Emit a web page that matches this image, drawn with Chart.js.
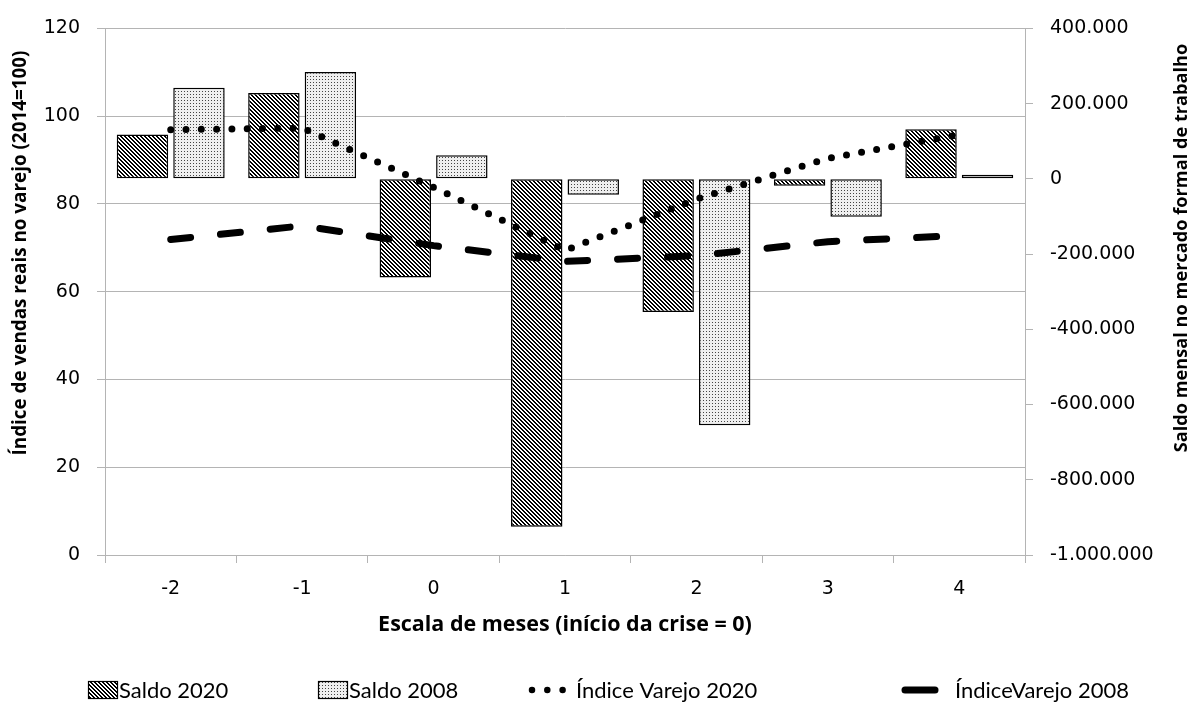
<!DOCTYPE html>
<html><head><meta charset="utf-8">
<style>html,body{margin:0;padding:0;background:#fff;overflow:hidden}#wrap{width:1195px;height:715px;position:relative}</style>
<script src="https://cdn.jsdelivr.net/npm/chart.js@4.4.1/dist/chart.umd.min.js"></script>
</head><body><div id="wrap"><canvas id="c" width="1195" height="715"></canvas></div>
<script>
// ---- data ----
const categories = ['-2', '-1', '0', '1', '2', '3', '4'];
const saldo2020 = [118000, 228000, -262000, -925000, -354000, -18000, 132000];
const saldo2008 = [242000, 284000, 63000, -42000, -655000, -101000, 11000];
const indiceVarejo2020 = [96.9, 97.3, 83.8, 69.4, 81.1, 90.4, 95.8];
const indiceVarejo2008 = [71.9, 75.0, 70.5, 66.9, 68.2, 71.4, 72.8];
const leftAxisRange = [0, 120, 20];
const rightAxisRange = [-1000000, 400000, 200000];
const seriesNames = ['Saldo 2020', 'Saldo 2008', 'Índice Varejo 2020', 'ÍndiceVarejo 2008'];
const xTitle = 'Escala de meses (início da crise = 0)';
const leftTitle = 'Índice de vendas reais no varejo (2014=100)';
const rightTitle = 'Saldo mensal no mercado formal de trabalho';

// ---- patterns ----
function makeHatch() {
  const c = document.createElement('canvas'); c.width = 4; c.height = 4;
  const g = c.getContext('2d');
  g.fillStyle = '#fff'; g.fillRect(0, 0, 4, 4);
  g.fillStyle = '#000';
  for (let y = 0; y < 4; y++) for (let x = 0; x < 4; x++) {
    const d = ((x - y) % 4 + 4) % 4;
    if (d < 2) g.fillRect(x, y, 1, 1);
  }
  return g.createPattern(c, 'repeat');
}
function makeStipple() {
  const c = document.createElement('canvas'); c.width = 3; c.height = 3;
  const g = c.getContext('2d');
  g.fillStyle = '#efefef'; g.fillRect(0, 0, 3, 3);
  g.fillStyle = '#444'; g.fillRect(1, 1, 1, 1);
  return g.createPattern(c, 'repeat');
}
const hatch = makeHatch();
const stipple = makeStipple();

function fmtThousands(v) {
  const neg = v < 0;
  const s = Math.abs(Math.round(v)).toString().replace(/\B(?=(\d{3})+(?!\d))/g, '.');
  return (neg ? '-' : '') + s;
}

const tickFont = { family: 'DejaVu Sans', size: 19 };
const gridColor = '#b4b4b4';

function fitFont(ctx, text, weight, family, targetW) {
  ctx.font = weight + ' 20px "' + family + '"';
  const w = ctx.measureText(text).width;
  const size = 20 * targetW / w;
  return weight + ' ' + size.toFixed(2) + 'px "' + family + '"';
}

const overlay = {
  id: 'overlay',
  afterDraw(chart) {
    const ctx = chart.ctx;
    const area = chart.chartArea;
    ctx.save();
    ctx.fillStyle = '#000';
    ctx.textAlign = 'center';
    ctx.textBaseline = 'middle';
    ctx.font = fitFont(ctx, xTitle, 'bold', 'Open Sans', 374);
    ctx.fillText(xTitle, (area.left + area.right) / 2, 625);
    ctx.font = fitFont(ctx, leftTitle, 'bold', 'Open Sans', 405);
    ctx.save(); ctx.translate(21, 253); ctx.rotate(-Math.PI / 2); ctx.fillText(leftTitle, 0, 0); ctx.restore();
    ctx.font = fitFont(ctx, rightTitle, 'bold', 'Open Sans', 409);
    ctx.save(); ctx.translate(1182, 248); ctx.rotate(-Math.PI / 2); ctx.fillText(rightTitle, 0, 0); ctx.restore();

    // legend
    const ds = chart.data.datasets;
    const ly = 690;
    ctx.font = '22px Lato';
    ctx.textAlign = 'left';
    const starts = [88, 318, 528, 900];
    const order = [2, 3, 0, 1];
    order.forEach((di, k) => {
      const d = ds[di];
      const x0 = starts[k];
      let tx;
      if (d.type === 'bar') {
        ctx.fillStyle = d.backgroundColor;
        ctx.fillRect(x0, ly - 9, 30, 18);
        ctx.strokeStyle = '#000'; ctx.lineWidth = 1.2;
        ctx.strokeRect(x0 + 0.5, ly - 8.5, 29, 17);
        tx = x0 + 31;
      } else {
        ctx.save();
        ctx.strokeStyle = d.borderColor; ctx.lineWidth = d.borderWidth;
        ctx.lineCap = 'round';
        ctx.setLineDash(d.borderDash);
        ctx.beginPath();
        if (di === 0) { ctx.lineWidth = 6.5; ctx.moveTo(x0 + 4, ly); ctx.lineTo(x0 + 36, ly); }
        else { ctx.setLineDash([]); ctx.moveTo(x0 + 5, ly); ctx.lineTo(x0 + 35, ly); }
        ctx.stroke();
        ctx.restore();
        tx = x0 + (di === 0 ? 48 : 55);
      }
      ctx.fillStyle = '#000';
      ctx.fillText(d.label, tx, ly + 1);
    });
    ctx.restore();
  }
};

new Chart(document.getElementById('c'), {
  type: 'bar',
  data: {
    labels: categories,
    datasets: [
      { type: 'line', label: seriesNames[2], data: indiceVarejo2020, yAxisID: 'y', order: 0,
        borderColor: '#000', borderWidth: 7, borderDash: [0, 15.3], borderCapStyle: 'round', borderJoinStyle: 'round',
        pointRadius: 0, fill: false, tension: 0 },
      { type: 'line', label: seriesNames[3], data: indiceVarejo2008, yAxisID: 'y', order: 0,
        borderColor: '#000', borderWidth: 7, borderDash: [20, 30], borderCapStyle: 'round', borderJoinStyle: 'round',
        pointRadius: 0, fill: false, tension: 0 },
      { type: 'bar', label: seriesNames[0], data: saldo2020, yAxisID: 'y1', order: 1,
        backgroundColor: hatch, borderColor: '#000', borderWidth: 1.5, borderSkipped: false,
        categoryPercentage: 0.86, barPercentage: 0.91 },
      { type: 'bar', label: seriesNames[1], data: saldo2008, yAxisID: 'y1', order: 1,
        backgroundColor: stipple, borderColor: '#000', borderWidth: 1.5, borderSkipped: false,
        categoryPercentage: 0.86, barPercentage: 0.91 }
    ]
  },
  options: {
    responsive: false,
    animation: false,
    layout: { padding: { top: 24, left: 0, right: 0, bottom: 0 } },
    plugins: { legend: { display: false }, tooltip: { enabled: false }, title: { display: false } },
    scales: {
      x: {
        type: 'category', offset: true,
        grid: { offset: true, drawOnChartArea: false, drawTicks: true, tickLength: 8, color: gridColor },
        border: { color: gridColor },
        ticks: { font: tickFont, color: '#000', padding: 15, maxRotation: 0 },
        afterFit(s) { s.height = 160; }
      },
      y: {
        position: 'left', min: leftAxisRange[0], max: leftAxisRange[1],
        ticks: { stepSize: leftAxisRange[2], font: tickFont, color: '#000', padding: 17 },
        grid: { color: gridColor, tickLength: 8 },
        border: { color: gridColor },
        afterFit(s) { s.width = 105; }
      },
      y1: {
        position: 'right', min: rightAxisRange[0], max: rightAxisRange[1],
        ticks: { stepSize: rightAxisRange[2], font: tickFont, color: '#000', padding: 17, callback: (v) => fmtThousands(v) },
        grid: { drawOnChartArea: false, tickLength: 8, color: gridColor },
        border: { color: gridColor },
        afterFit(s) { s.width = 170; }
      }
    }
  },
  plugins: [overlay]
});
</script>
</body></html>
